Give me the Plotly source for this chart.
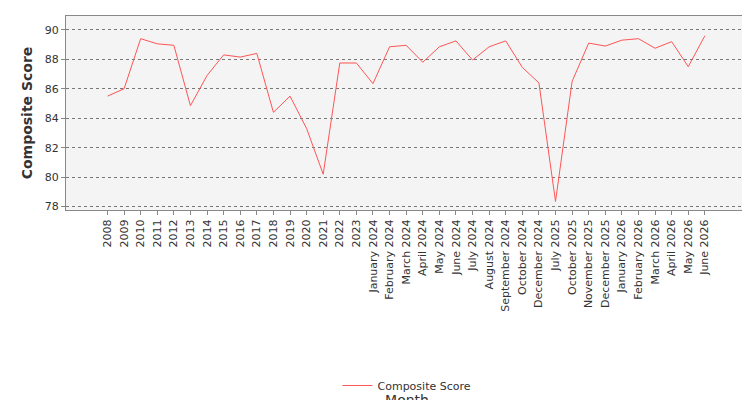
import plotly.graph_objects as go

months = [str(y) for y in range(2008, 2024)] + [
    "January 2024", "February 2024", "March 2024", "April 2024", "May 2024",
    "June 2024", "July 2024", "August 2024", "September 2024", "October 2024",
    "December 2024", "July 2025", "October 2025", "November 2025", "December 2025",
    "January 2026", "February 2026", "March 2026", "April 2026", "May 2026", "June 2026",
]
scores = [85.5, 86.0, 89.4, 89.05, 88.95, 84.85, 86.9, 88.3, 88.15, 88.4, 84.4, 85.5,
          83.3, 80.2, 87.75, 87.75, 86.35, 88.85, 88.95, 87.8, 88.85, 89.25, 87.95,
          88.85, 89.25, 87.45, 86.4, 78.35, 86.5, 89.1, 88.9, 89.3, 89.4, 88.75,
          89.2, 87.5, 89.6]

fig = go.Figure(go.Scatter(x=months, y=scores, mode="lines", name="Composite Score",
                           line=dict(color="#ff5555", width=1)))

fig.update_layout(
    width=750, height=400,
    margin=dict(l=58, r=10, t=8, b=167),
    plot_bgcolor="#f4f4f4", paper_bgcolor="white",
    font=dict(family="DejaVu Sans", size=11, color="#333"),
    showlegend=True,
    legend=dict(orientation="h", x=0.5, xanchor="center", y=-0.83, yanchor="top",
                font=dict(size=11)),
)
fig.update_xaxes(type="category", range=[-2.5, 38.6], tickangle=-90, automargin=False,
                 title=dict(text="Month", font=dict(size=14), standoff=105),
                 showgrid=False, showline=True, linecolor="#888", mirror=True,
                 ticks="outside", ticklen=4, tickcolor="#888")
fig.update_yaxes(range=[77.77, 90.94], dtick=2, automargin=False,
                 title=dict(text="<b>Composite Score</b>", font=dict(size=14), standoff=8),
                 showgrid=True, gridcolor="#777", griddash="dot", gridwidth=1,
                 zeroline=False, showline=True, linecolor="#888", mirror=True,
                 ticks="outside", ticklen=4, tickcolor="#888")

fig.write_html("out.html")
